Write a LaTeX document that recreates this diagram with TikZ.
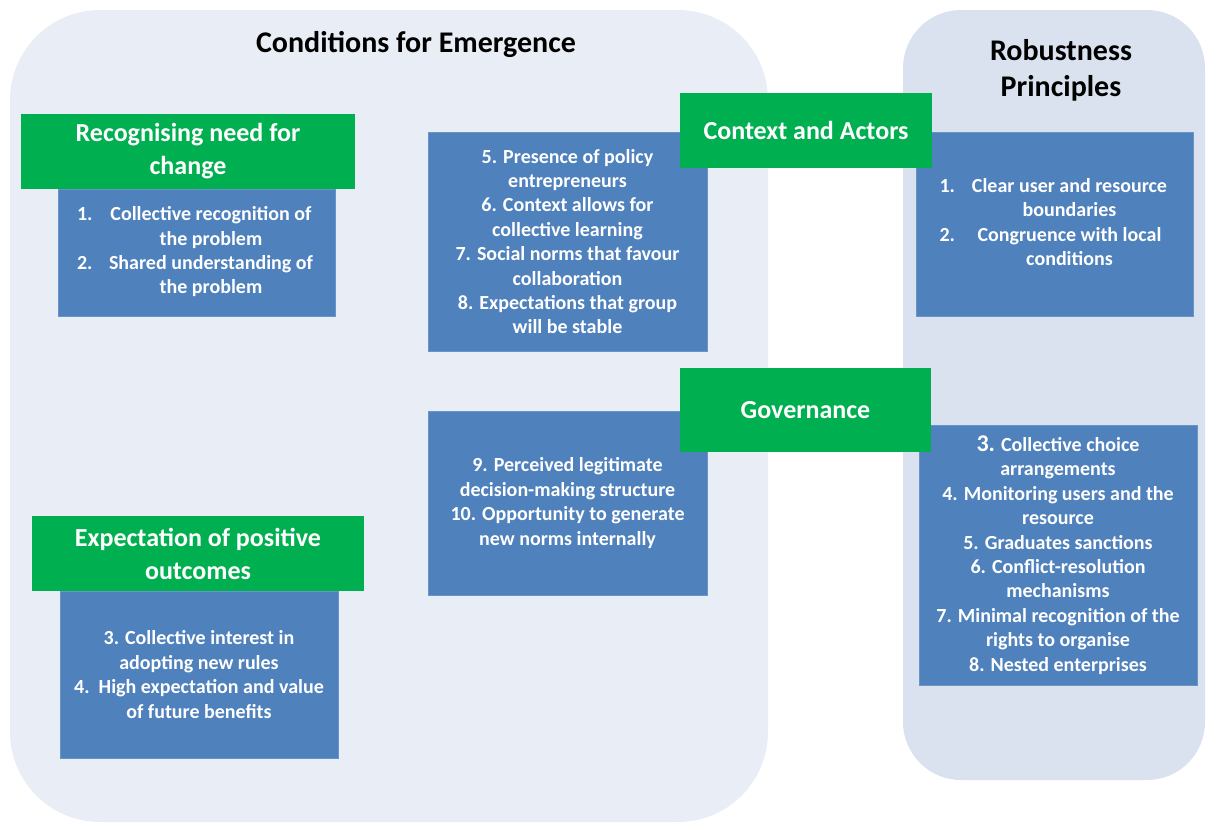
\documentclass[tikz,border=0pt]{standalone}
\usepackage{fontspec}
\setmainfont{Carlito}
\usepackage{array}
\definecolor{leftbg}{RGB}{233,238,246}
\definecolor{rightbg}{RGB}{218,226,239}
\definecolor{boxblue}{RGB}{79,129,189}
\definecolor{boxgreen}{RGB}{0,176,80}
\newcolumntype{C}[1]{>{\centering\arraybackslash}p{#1}}
\tikzset{
  panel/.style={fill=#1, draw=none, inner sep=0pt},
  bluebox/.style={fill=boxblue, draw=boxblue!85!white, line width=0.8pt, text=white, align=center, inner sep=0pt,
    font=\fontsize{20}{24.4}\selectfont\bfseries},
  greenbox/.style={fill=boxgreen, draw=none, text=white, align=center, inner sep=0pt,
    font=\fontsize{26}{33}\selectfont\bfseries},
  heading/.style={text=black, align=center, inner sep=0pt, font=\fontsize{30}{36}\selectfont\bfseries}
}
\begin{document}
\begin{tikzpicture}[x=1pt,y=-1pt]
\useasboundingbox (0,0) rectangle (1206,825);
% panels
\node[panel=leftbg, rounded corners=90pt, minimum width=758pt, minimum height=812pt] (leftpanel) at (389,416) {};
\node[panel=rightbg, rounded corners=58pt, minimum width=302pt, minimum height=770pt] (rightpanel) at (1054,395) {};
% titles
\node[heading] (ttl) at (416,44) {Conditions for Emergence};
\node[heading] (ttr) at (1061,70) {Robustness\\Principles};
% blue boxes
\node[bluebox, minimum width=277pt, minimum height=127pt] (b1) at (196.5,252.5)
  {\begin{tabular}{@{}p{29pt}@{}C{210pt}@{}}
   1. & Collective recognition of\\
      & the problem\\
   2. & Shared understanding of\\
      & the problem
   \end{tabular}};
\node[bluebox, minimum width=279pt, minimum height=219pt] (b2) at (567.5,241.5)
  {5. Presence of policy\\entrepreneurs\\6. Context allows for\\collective learning\\7. Social norms that favour\\collaboration\\8. Expectations that group\\will be stable};
\node[bluebox, minimum width=279pt, minimum height=184pt] (b3) at (567.5,503)
  {9. Perceived legitimate\\decision-making structure\\10. Opportunity to generate\\new norms internally};
\node[bluebox, minimum width=278pt, minimum height=167pt] (b4) at (199,674.5)
  {3. Collective interest in\\adopting new rules\\4.\ \ High expectation and value\\of future benefits};
\node[bluebox, minimum width=277pt, minimum height=184pt] (r1) at (1054.5,224)
  {\begin{tabular}{@{}p{30pt}@{}C{200pt}@{}}
   1. & Clear user and resource\\
      & boundaries\\
   2. & Congruence with local\\
      & conditions
   \end{tabular}};
\node[bluebox, minimum width=278pt, minimum height=260pt] (r2) at (1058,555)
  {{\fontsize{24}{24.4}\selectfont 3.} Collective choice\\arrangements\\4. Monitoring users and the\\resource\\5. Graduates sanctions\\6. Conflict-resolution\\mechanisms\\7. Minimal recognition of the\\rights to organise\\8. Nested enterprises};
% green boxes
\node[greenbox, minimum width=334pt, minimum height=75pt] (g1) at (188,151.5) {Recognising need for\\change};
\node[greenbox, minimum width=252pt, minimum height=75pt] (g2) at (806,130.5) {Context and Actors};
\node[greenbox, minimum width=251pt, minimum height=84pt] (g3) at (805.5,410) {Governance};
\node[greenbox, minimum width=332pt, minimum height=75pt] (g4) at (198,553.5) {Expectation of positive\\outcomes};
\end{tikzpicture}
\end{document}
